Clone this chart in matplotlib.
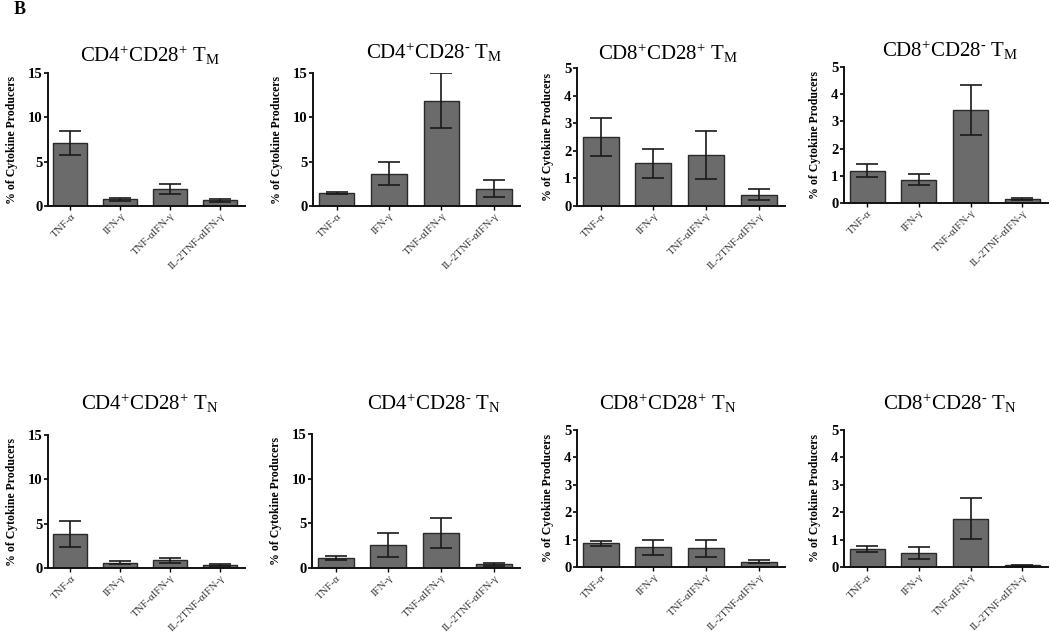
import matplotlib
matplotlib.use("Agg")
import matplotlib.pyplot as plt

plt.rcParams['font.family'] = ['Liberation Serif', 'DejaVu Serif']
plt.rcParams['mathtext.fontset'] = 'custom'
plt.rcParams['mathtext.rm'] = 'Liberation Serif'
plt.rcParams['mathtext.it'] = 'Liberation Serif:italic'
plt.rcParams['mathtext.bf'] = 'Liberation Serif:bold'

categories = ["TNF-α", "IFN-γ", "TNF-αIFN-γ", "IL-2TNF-αIFN-γ"]

titles = [
    r"CD4$^{+}$CD28$^{+}$ T$_{\mathrm{M}}$",
    r"CD4$^{+}$CD28$^{\text{-}}$ T$_{\mathrm{M}}$",
    r"CD8$^{+}$CD28$^{+}$ T$_{\mathrm{M}}$",
    r"CD8$^{+}$CD28$^{\text{-}}$ T$_{\mathrm{M}}$",
    r"CD4$^{+}$CD28$^{+}$ T$_{\mathrm{N}}$",
    r"CD4$^{+}$CD28$^{\text{-}}$ T$_{\mathrm{N}}$",
    r"CD8$^{+}$CD28$^{+}$ T$_{\mathrm{N}}$",
    r"CD8$^{+}$CD28$^{\text{-}}$ T$_{\mathrm{N}}$",
]

means_cd4_cd28p_tm = [7.1, 0.75, 1.9, 0.65]
err_cd4_cd28p_tm = [1.4, 0.15, 0.55, 0.15]
means_cd4_cd28n_tm = [1.45, 3.65, 11.85, 1.95]
err_cd4_cd28n_tm = [0.15, 1.3, 3.1, 0.97]
means_cd8_cd28p_tm = [2.5, 1.55, 1.84, 0.41]
err_cd8_cd28p_tm = [0.69, 0.52, 0.87, 0.2]
means_cd8_cd28n_tm = [1.19, 0.86, 3.42, 0.16]
err_cd8_cd28n_tm = [0.25, 0.21, 0.92, 0.04]

means_cd4_cd28p_tn = [3.85, 0.6, 0.86, 0.3]
err_cd4_cd28p_tn = [1.45, 0.15, 0.28, 0.1]
means_cd4_cd28n_tn = [1.1, 2.6, 3.9, 0.41]
err_cd4_cd28n_tn = [0.2, 1.33, 1.7, 0.15]
means_cd8_cd28p_tn = [0.86, 0.72, 0.68, 0.19]
err_cd8_cd28p_tn = [0.09, 0.27, 0.32, 0.06]
means_cd8_cd28n_tn = [0.65, 0.51, 1.77, 0.06]
err_cd8_cd28n_tn = [0.1, 0.21, 0.75, 0.03]

all_means = [means_cd4_cd28p_tm, means_cd4_cd28n_tm, means_cd8_cd28p_tm, means_cd8_cd28n_tm,
             means_cd4_cd28p_tn, means_cd4_cd28n_tn, means_cd8_cd28p_tn, means_cd8_cd28n_tn]
all_errs = [err_cd4_cd28p_tm, err_cd4_cd28n_tm, err_cd8_cd28p_tm, err_cd8_cd28n_tm,
            err_cd4_cd28p_tn, err_cd4_cd28n_tn, err_cd8_cd28p_tn, err_cd8_cd28n_tn]
ymaxes = [15, 15, 5, 5, 15, 15, 5, 5]

W, H = 1050, 636
fig = plt.figure(figsize=(W / 100, H / 100), dpi=100)

# pixel boxes: left, right, top, bottom
boxes = [
    (48, 245, 73, 206), (313, 520, 73, 206), (577, 785, 68, 206), (844, 1048, 67, 203),
    (48, 245, 435, 568), (312, 520, 434, 568), (577, 785, 430, 567), (844, 1048, 430, 567),
]
title_pos = [(150, 55), (434, 52), (668, 53), (950, 50),
             (150, 403), (434, 403), (668, 403), (950, 403)]

for i in range(8):
    l, r, t, b = boxes[i]
    ax = fig.add_axes([l / W, 1 - b / H, (r - l) / W, (b - t) / H])
    x = range(len(categories))
    ax.bar(x, all_means[i], width=0.68, color='#6b6b6b', edgecolor='#2a2a2a', linewidth=1.0,
           yerr=all_errs[i], error_kw=dict(ecolor='#1a1a1a', elinewidth=1.2, capsize=8, capthick=1.2))
    ax.set_xlim(-0.45, 3.5)
    ymax = ymaxes[i]
    ax.set_ylim(0, ymax)
    ax.set_yticks(range(0, ymax + 1, 5 if ymax == 15 else 1))
    ax.spines['top'].set_visible(False)
    ax.spines['right'].set_visible(False)
    for s in ('left', 'bottom'):
        ax.spines[s].set_linewidth(1.4)
        ax.spines[s].set_color('#111111')
    ax.tick_params(axis='y', direction='out', length=3, width=1.2, labelsize=10.5, pad=1)
    ax.tick_params(axis='x', direction='out', length=3, width=1.0, labelsize=7.8, pad=1,
                   labelcolor='#333333')
    for lab in ax.get_yticklabels():
        lab.set_fontweight('bold')
    ax.set_xticks(list(x))
    ax.set_xticklabels(categories, rotation=45, ha='right', rotation_mode='anchor')
    ax.set_ylabel("% of Cytokine Producers", fontsize=8.5, fontweight='bold', labelpad=7)
    tx, ty = title_pos[i]
    fig.text(tx / W, 1 - ty / H, titles[i], ha='center', va='center', fontsize=15)

fig.text(20 / W, 1 - 10 / H, "B", ha='center', va='center', fontsize=13, fontweight='bold')

fig.savefig("out.png", dpi=100)
